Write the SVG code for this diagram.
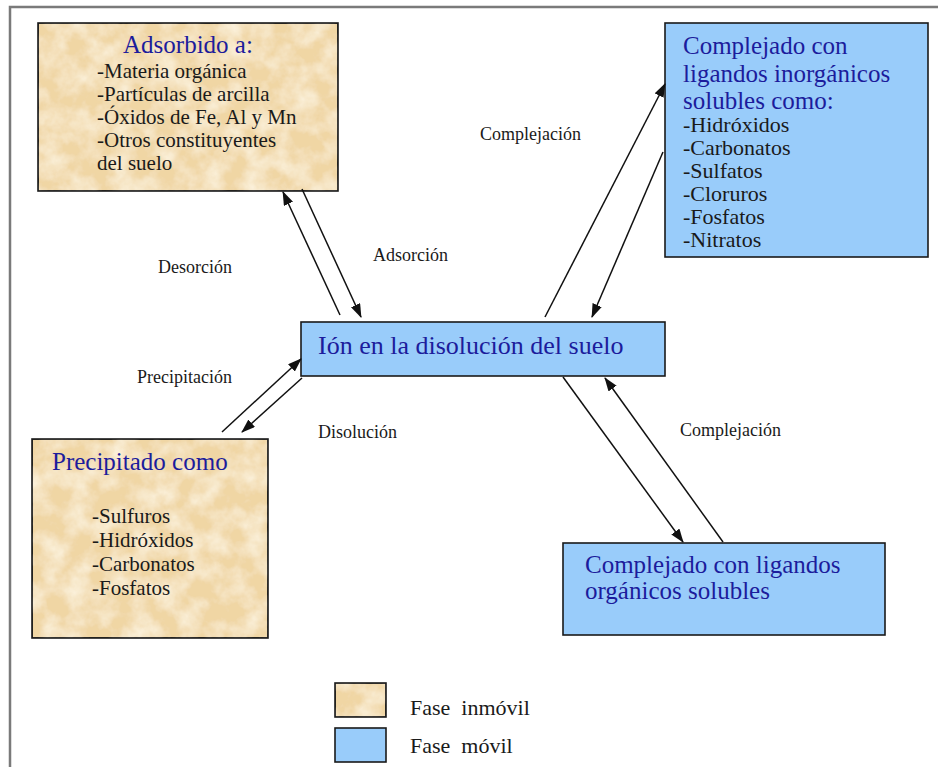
<svg xmlns="http://www.w3.org/2000/svg" width="938" height="767" viewBox="0 0 938 767">
<defs>
<style>
.frame{fill:none;stroke:#7a7a7a;stroke-width:2.5}
.box{stroke:#1a1a1a;stroke-width:1.6}
.mob{fill:#99CCFA}
.imm{fill:#F0D6A4}
.head{font-family:"Liberation Serif","Times New Roman",serif;font-size:25px;fill:#1c1c9c}
.item{font-family:"Liberation Serif","Times New Roman",serif;font-size:22px;fill:#1a1a1a}
.sm{font-size:21px}
.lbl{font-family:"Liberation Serif","Times New Roman",serif;font-size:18px;fill:#1a1a1a}
.leg{font-family:"Liberation Serif","Times New Roman",serif;font-size:22px;fill:#1a1a1a}
.conn line{stroke:#111;stroke-width:1.5;marker-end:url(#ah)}
</style>
<marker id="ah" viewBox="0 0 14 10" refX="13" refY="5" markerWidth="14" markerHeight="10" markerUnits="userSpaceOnUse" orient="auto">
<path d="M0,0 L14,5 L0,10 z" fill="#111"/>
</marker>
<filter id="parch" x="0" y="0" width="100%" height="100%">
<feTurbulence type="fractalNoise" baseFrequency="0.045" numOctaves="4" seed="7" result="n"/>
<feColorMatrix in="n" type="matrix" values="0 0 0 0 0.98  0 0 0 0 0.91  0 0 0 0 0.76  1.6 0 0 0 -0.55" result="c"/>
<feComposite in="c" in2="SourceGraphic" operator="in" result="t"/>
<feMerge><feMergeNode in="SourceGraphic"/><feMergeNode in="t"/></feMerge>
</filter>
</defs>
<rect width="938" height="767" fill="#ffffff"/>
<path class="frame" d="M10,767 L10,7 L938,7"/>

<g id="adsorbido">
<rect class="box imm" x="38" y="23" width="300" height="168" filter="url(#parch)"/>
<rect class="box" x="38" y="23" width="300" height="168" fill="none"/>
<text class="head" x="188" y="53" text-anchor="middle">Adsorbido a:</text>
<text class="item sm" x="97" y="78">-Materia orgánica</text>
<text class="item sm" x="97" y="101">-Partículas de arcilla</text>
<text class="item sm" x="97" y="124">-Óxidos de Fe, Al y Mn</text>
<text class="item sm" x="97" y="147">-Otros constituyentes</text>
<text class="item sm" x="97" y="170">del suelo</text>
</g>

<g id="inorganicos">
<rect class="box mob" x="665" y="23" width="263" height="234"/>
<text class="head" x="683" y="54">Complejado con</text>
<text class="head" x="683" y="82">ligandos inorgánicos</text>
<text class="head" x="683" y="109">solubles como:</text>
<text class="item" x="683" y="132">-Hidróxidos</text>
<text class="item" x="683" y="155">-Carbonatos</text>
<text class="item" x="683" y="178">-Sulfatos</text>
<text class="item" x="683" y="201">-Cloruros</text>
<text class="item" x="683" y="224">-Fosfatos</text>
<text class="item" x="683" y="247">-Nitratos</text>
</g>

<g id="ion">
<rect class="box mob" x="301" y="322" width="364" height="54"/>
<text class="head" x="318" y="354" style="font-size:26px">Ión en la disolución del suelo</text>
</g>

<g id="precipitado">
<rect class="box imm" x="32" y="439" width="236" height="199" filter="url(#parch)"/>
<rect class="box" x="32" y="439" width="236" height="199" fill="none"/>
<text class="head" x="52" y="470">Precipitado como</text>
<text class="item sm" x="92" y="523">-Sulfuros</text>
<text class="item sm" x="92" y="547">-Hidróxidos</text>
<text class="item sm" x="92" y="571">-Carbonatos</text>
<text class="item sm" x="92" y="595">-Fosfatos</text>
</g>

<g id="organicos">
<rect class="box mob" x="563" y="543" width="322" height="92"/>
<text class="head" x="585" y="573">Complejado con ligandos</text>
<text class="head" x="585" y="599">orgánicos solubles</text>
</g>

<g id="connectors" class="conn">
<line x1="340" y1="315" x2="283" y2="192"/>
<line x1="302" y1="189" x2="361" y2="317"/>
<line x1="545" y1="317" x2="665" y2="84"/>
<line x1="663" y1="152" x2="592" y2="317"/>
<line x1="222" y1="432" x2="301" y2="359"/>
<line x1="302" y1="378" x2="242" y2="432"/>
<line x1="563" y1="377" x2="683" y2="542"/>
<line x1="723" y1="542" x2="605" y2="378"/>
</g>

<g id="labels">
<text class="lbl" x="158" y="273">Desorción</text>
<text class="lbl" x="373" y="261">Adsorción</text>
<text class="lbl" x="480" y="140">Complejación</text>
<text class="lbl" x="137" y="383">Precipitación</text>
<text class="lbl" x="318" y="438">Disolución</text>
<text class="lbl" x="680" y="436">Complejación</text>
</g>

<g id="legend">
<rect class="box imm" x="335" y="683" width="51" height="34" filter="url(#parch)"/>
<rect class="box" x="335" y="683" width="51" height="34" fill="none"/>
<rect class="box mob" x="335" y="728" width="51" height="34"/>
<text class="leg" x="410" y="715" xml:space="preserve">Fase  inmóvil</text>
<text class="leg" x="410" y="753" xml:space="preserve">Fase  móvil</text>
</g>
</svg>
